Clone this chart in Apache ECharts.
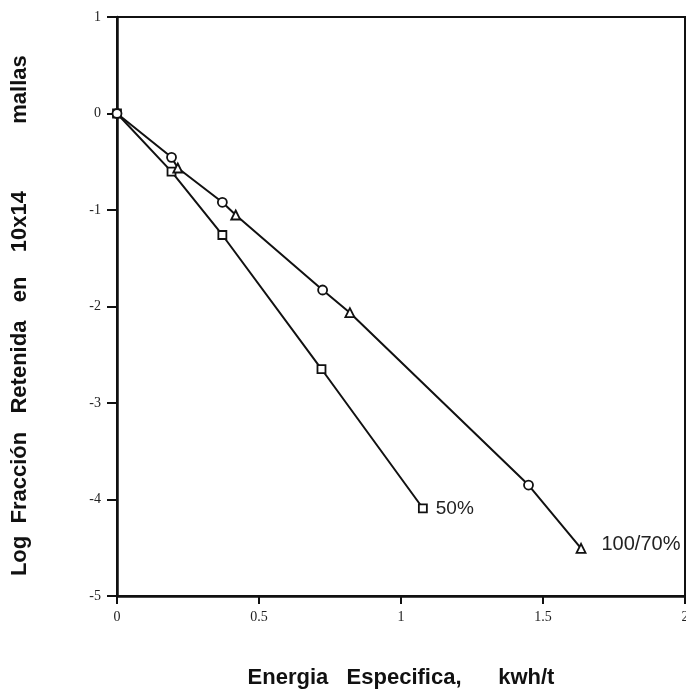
<!DOCTYPE html>
<html>
<head>
<meta charset="utf-8">
<script src="https://cdn.jsdelivr.net/npm/echarts@6/dist/echarts.min.js"></script>
<style>
html,body{margin:0;padding:0;background:#fff;overflow:hidden;}
#c{width:686px;height:691px;}
</style>
</head>
<body>
<div id="c"></div>
<script>
// Data
const circles100 = [[0, 0], [0.192, -0.454], [0.371, -0.920], [0.724, -1.829], [1.449, -3.850]];
const triangles70 = [[0.214, -0.565], [0.418, -1.052], [0.820, -2.064], [1.634, -4.506]];
const squares50 = [[0, 0], [0.192, -0.603], [0.371, -1.259], [0.720, -2.648], [1.077, -4.091]];
const label50 = '50%';
const label10070 = '100/70%';
const xTitle = 'Energia   Especifica,      kwh/t';
const yTitle = 'Log  Fracción   Retenida   en    10x14           mallas   ';

const combined = circles100.concat(triangles70).slice().sort((a, b) => a[0] - b[0]);

const el = document.getElementById('c');
const chart = echarts.init(el, null, {renderer: 'canvas', width: 686, height: 691});
const tickFont = {fontFamily: '"Liberation Serif","Times New Roman",serif', fontSize: 14, color: '#222'};
const labelFont = {fontFamily: '"Liberation Sans",Arial,sans-serif', fontSize: 19, color: '#222'};
const markerStyle = {color: '#fff', borderColor: '#111', borderWidth: 1.8, opacity: 1};
const sq = squares50.map((p, i) => i === squares50.length - 1 ?
  {value: p, label: {show: true, position: 'right', distance: 8, formatter: label50, ...labelFont}} : {value: p});
const tri = triangles70.map((p, i) => i === triangles70.length - 1 ?
  {value: p, label: {show: true, position: 'right', distance: 15, formatter: label10070, offset: [0, -4], ...labelFont, fontSize: 20}} : {value: p});

chart.setOption({
  animation: false,
  backgroundColor: '#fff',
  grid: {left: 117, right: 1, top: 17, bottom: 95, outerBoundsMode: 'none', containLabel: false,
    show: true, borderColor: '#111', borderWidth: 2, backgroundColor: 'transparent'},
  xAxis: {
    type: 'value', min: 0, max: 2, interval: 0.5,
    name: xTitle, nameLocation: 'middle', nameGap: 71,
    nameTextStyle: {fontFamily: '"Liberation Sans",Arial,sans-serif', fontSize: 22, fontWeight: 'bold', color: '#111'},
    axisLine: {show: true, onZero: false, lineStyle: {color: '#111', width: 2.5}},
    axisTick: {show: true, inside: false, length: 8, lineStyle: {color: '#111', width: 2}},
    axisLabel: {...tickFont, margin: 14},
    splitLine: {show: false}
  },
  yAxis: {
    type: 'value', min: -5, max: 1, interval: 1,
    name: yTitle, nameLocation: 'middle', nameGap: 86, nameRotate: 90,
    nameTextStyle: {fontFamily: '"Liberation Sans",Arial,sans-serif', fontSize: 22, fontWeight: 'bold', color: '#111'},
    axisLine: {show: true, onZero: false, lineStyle: {color: '#111', width: 2.5}},
    axisTick: {show: true, inside: false, length: 10, lineStyle: {color: '#111', width: 2}},
    axisLabel: {...tickFont, margin: 16},
    splitLine: {show: false}
  },
  series: [
    {type: 'line', data: combined, symbol: 'none', lineStyle: {color: '#111', width: 2}, z: 2},
    {type: 'line', data: sq, symbol: 'rect', symbolSize: 8, lineStyle: {color: '#111', width: 2},
      itemStyle: markerStyle, z: 3},
    {type: 'scatter', data: circles100, symbol: 'circle', symbolSize: 9,
      itemStyle: markerStyle, z: 4},
    {type: 'scatter', data: tri, symbol: 'triangle', symbolSize: 9,
      itemStyle: markerStyle, z: 4}
  ]
});
</script>
</body>
</html>
